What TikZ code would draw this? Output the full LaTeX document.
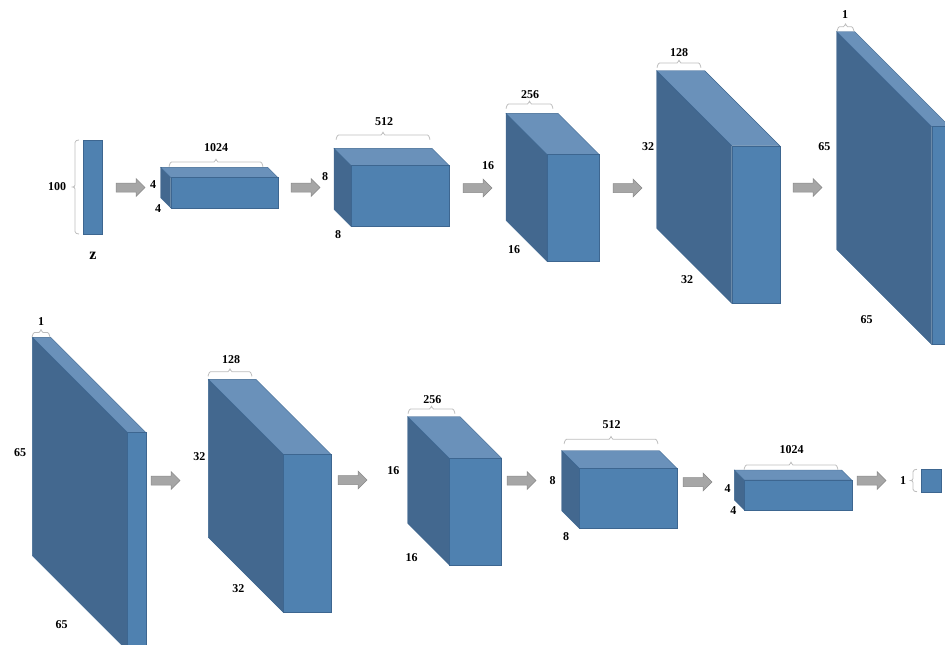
\documentclass[tikz,border=0pt]{standalone}
\usepackage{fontspec}
\setmainfont{Liberation Serif}
\definecolor{frontc}{HTML}{4F81B0}
\definecolor{sidec}{HTML}{43688F}
\definecolor{topc}{HTML}{6A91BA}
\definecolor{edgec}{HTML}{3D6690}
\definecolor{bracec}{HTML}{BDBDBD}
\definecolor{arrfill}{HTML}{A6A6A6}
\definecolor{arredge}{HTML}{8A8A8A}
\tikzset{
  facebox/.style={draw=edgec,line width=0.4pt,line join=miter},
  bracestyle/.style={draw=bracec,line width=0.8pt},
  lbl/.style={font=\fontsize{12}{14}\selectfont\bfseries,inner sep=0pt,anchor=center},
  blockarr/.style={fill=arrfill,draw=arredge,line width=0.5pt}
}
% #1 x0, #2 y0 (back top left), #3 w, #4 h, #5 depth
\newcommand{\mycuboid}[5]{%
  \fill[sidec] (#1,#2) -- ({#1+#5},{#2+#5}) -- ({#1+#5},{#2+#5+#4}) -- (#1,{#2+#4}) -- cycle;
  \draw[facebox] (#1,#2) -- ({#1+#5},{#2+#5}) -- ({#1+#5},{#2+#5+#4}) -- (#1,{#2+#4}) -- cycle;
  \filldraw[fill=topc,facebox] (#1,#2) -- ({#1+#3},#2) -- ({#1+#3+#5},{#2+#5}) -- ({#1+#5},{#2+#5}) -- cycle;
  \filldraw[fill=frontc,facebox] ({#1+#5},{#2+#5}) rectangle ({#1+#5+#3},{#2+#5+#4});
}
% horizontal brace: #1 x1, #2 x2, #3 y
\newcommand{\hbrace}[3]{%
  \pgfmathsetmacro{\bmid}{0.5*#1+0.5*#2}%
  \draw[bracestyle] (#1,{#3+4}) to[out=-90,in=180] ({#1+2.5},#3) -- ({\bmid-2},#3)
    to[out=0,in=90] (\bmid,{#3-2.5}) to[out=90,in=180] ({\bmid+2},#3)
    -- ({#2-2.5},#3) to[out=0,in=-90] (#2,{#3+4});
}
% vertical brace opening right: #1 x, #2 y1, #3 y2
\newcommand{\vbrace}[3]{%
  \pgfmathsetmacro{\bmid}{0.5*#2+0.5*#3}%
  \draw[bracestyle] ({#1+4},#2) to[out=180,in=90] (#1,{#2+2.5}) -- (#1,{\bmid-2})
    to[out=-90,in=0] ({#1-2.5},\bmid) to[out=0,in=90] (#1,{\bmid+2})
    -- (#1,{#3-2.5}) to[out=-90,in=180] ({#1+4},#3);
}
% block arrow: #1 tail x, #2 center y
\newcommand{\blockarrow}[2]{%
  \filldraw[blockarr] (#1,{#2-4.5}) -- ({#1+20},{#2-4.5}) -- ({#1+20},{#2-9}) -- ({#1+29},#2)
    -- ({#1+20},{#2+9}) -- ({#1+20},{#2+4.5}) -- (#1,{#2+4.5}) -- cycle;
}
\begin{document}
\begin{tikzpicture}[x=1pt,y=-1pt]
\useasboundingbox (0,0) rectangle (945,645);
\clip (0,0) rectangle (945,645);
% ---- top row ----
\filldraw[fill=frontc,facebox] (83,140) rectangle (102,234);
\vbrace{75}{140}{234}
\node[lbl] (l100) at (57,187) {100};
\node[lbl,font=\fontsize{16}{18}\selectfont\bfseries] (lz) at (93,256) {z};
\blockarrow{116}{187.5}

\mycuboid{160.7}{167.3}{107}{30.5}{10}
\hbrace{169}{263}{162}
\node[lbl] (t1a) at (216,148) {1024};
\node[lbl] (t1b) at (153,185) {4};
\node[lbl] (t1c) at (158,209) {4};
\blockarrow{291}{187.5}

\mycuboid{334}{148.3}{98}{61}{17}
\hbrace{336}{430}{135}
\node[lbl] (t2a) at (384,122) {512};
\node[lbl] (t2b) at (325,177) {8};
\node[lbl] (t2c) at (338,235) {8};
\blockarrow{463}{188}

\mycuboid{506}{113.3}{52}{107}{41}
\hbrace{506}{553}{104}
\node[lbl] (t3a) at (530,94.5) {256};
\node[lbl] (t3b) at (488,166) {16};
\node[lbl] (t3c) at (514,250) {16};
\blockarrow{613}{188}

\mycuboid{656.7}{70.7}{48}{157.7}{75}
\hbrace{657}{701}{63}
\node[lbl] (t4a) at (679,52.7) {128};
\node[lbl] (t4b) at (648,147) {32};
\node[lbl] (t4c) at (687,280) {32};
\blockarrow{793}{187.5}

\mycuboid{836.7}{31.5}{18}{218}{95}
\hbrace{837}{854}{26.7}
\node[lbl] (t5a) at (845,15) {1};
\node[lbl] (t5b) at (824.3,146.7) {65};
\node[lbl] (t5c) at (866.7,319.3) {65};

% ---- bottom row ----
\mycuboid{32.3}{337.3}{18.4}{218.4}{95}
\hbrace{32}{50}{332.5}
\node[lbl] (b1a) at (41,322) {1};
\node[lbl] (b1b) at (20,452.7) {65};
\node[lbl] (b1c) at (61.7,625) {65};
\blockarrow{151}{480.5}

\mycuboid{208.3}{379.3}{47.7}{158}{75}
\hbrace{208}{252}{371.7}
\node[lbl] (b2a) at (231,360) {128};
\node[lbl] (b2b) at (199.3,456.7) {32};
\node[lbl] (b2c) at (238.3,588.3) {32};
\blockarrow{338}{480}

\mycuboid{407.7}{416.7}{52.3}{106.7}{41.5}
\hbrace{408}{455}{409}
\node[lbl] (b3a) at (432.3,399.3) {256};
\node[lbl] (b3b) at (393.3,470.7) {16};
\node[lbl] (b3c) at (411.7,557.3) {16};
\blockarrow{507}{480.5}

\mycuboid{561.7}{450.7}{97.6}{60}{17.6}
\hbrace{564}{658}{439.3}
\node[lbl] (b4a) at (611.7,425) {512};
\node[lbl] (b4b) at (552.7,480.7) {8};
\node[lbl] (b4c) at (566,536.7) {8};
\blockarrow{683}{482}

\mycuboid{734.3}{470}{107.4}{30}{10}
\hbrace{744}{838}{465}
\node[lbl] (b5a) at (791.7,450) {1024};
\node[lbl] (b5b) at (727.7,488.3) {4};
\node[lbl] (b5c) at (733.3,510.7) {4};
\blockarrow{857}{480.5}

\vbrace{913}{469.3}{491.7}
\node[lbl] (b6a) at (903,481) {1};
\filldraw[fill=frontc,facebox] (921,469.3) rectangle (941,491.7);
\end{tikzpicture}
\end{document}
